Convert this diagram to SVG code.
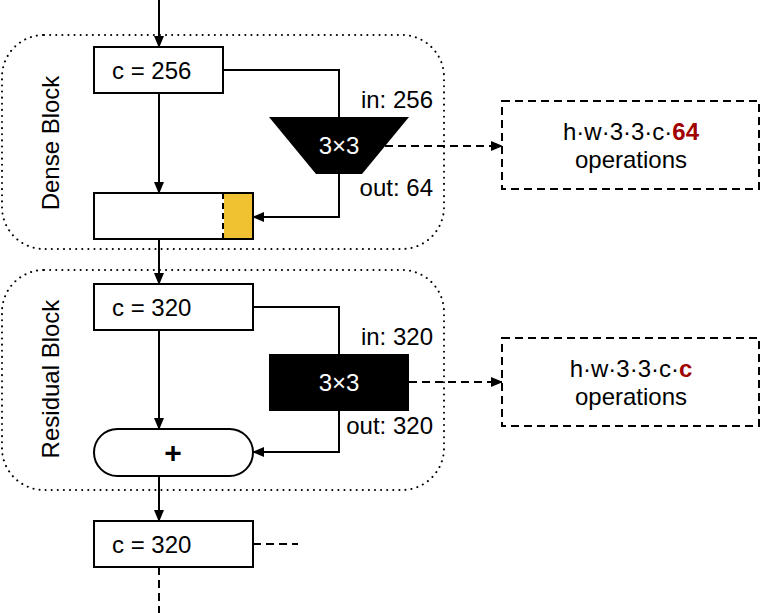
<svg xmlns="http://www.w3.org/2000/svg" width="760" height="613" viewBox="0 0 760 613">
<defs>
<style>
text{font-family:"Liberation Sans",Arial,sans-serif;font-size:24px;fill:#000}
.box{fill:#fff;stroke:#000;stroke-width:2}
.cont{fill:none;stroke:#000;stroke-width:2;stroke-dasharray:0.1 6;stroke-linecap:round}
.ln{fill:none;stroke:#000;stroke-width:2}
.dash{fill:none;stroke:#000;stroke-width:2;stroke-dasharray:8 5}
.dbox{fill:#fff;stroke:#000;stroke-width:2;stroke-dasharray:8 5}
.wt{fill:#fff}
.red{fill:#a00000;font-weight:bold}
</style>
<marker id="ah" markerWidth="12" markerHeight="10" refX="11" refY="5" orient="auto" markerUnits="userSpaceOnUse">
<path d="M0,0 L12,5 L0,10 Z" fill="#000"/>
</marker>
</defs>

<g id="dense-block">
<rect class="cont" x="2" y="35" width="442" height="214" rx="42"/>
<text transform="translate(59,143) rotate(-90)" text-anchor="middle">Dense Block</text>
</g>
<g id="residual-block">
<rect class="cont" x="2" y="270" width="442" height="220" rx="42"/>
<text transform="translate(59,379) rotate(-90)" text-anchor="middle">Residual Block</text>
</g>

<g id="connectors">
<line class="ln" x1="159" y1="0" x2="159" y2="47" marker-end="url(#ah)"/>
<line class="ln" x1="159" y1="93" x2="159" y2="193" marker-end="url(#ah)"/>
<polyline class="ln" points="223,70 339,70 339,117"/>
<polyline class="ln" points="339,174 339,217 253,217" marker-end="url(#ah)"/>
<line class="ln" x1="159" y1="239" x2="159" y2="284" marker-end="url(#ah)"/>
<line class="ln" x1="159" y1="330" x2="159" y2="429" marker-end="url(#ah)"/>
<polyline class="ln" points="253,307 339,307 339,354"/>
<polyline class="ln" points="339,411 339,452 253,452" marker-end="url(#ah)"/>
<line class="ln" x1="159" y1="476" x2="159" y2="521" marker-end="url(#ah)"/>
<line class="dash" x1="253" y1="544" x2="298" y2="544"/>
<line class="dash" x1="159" y1="567" x2="159" y2="613"/>
<line class="dash" x1="385" y1="146" x2="502" y2="146" marker-end="url(#ah)"/>
<line class="dash" x1="409" y1="382" x2="502" y2="382" marker-end="url(#ah)"/>
</g>

<g id="box-c256">
<rect class="box" x="94" y="47" width="129" height="46"/>
<text x="112" y="79">c = 256</text>
</g>
<g id="conv-dense">
<polygon points="269,117 409,117 362,174 316,174" fill="#000"/>
<text class="wt" x="339" y="154" text-anchor="middle">3×3</text>
<text x="433" y="108" text-anchor="end">in: 256</text>
<text x="433" y="196" text-anchor="end">out: 64</text>
</g>
<g id="box-concat">
<rect class="box" x="94" y="193" width="159" height="46"/>
<rect x="223" y="193" width="30" height="46" fill="#f0c232" stroke="#000" stroke-width="2"/>
<line x1="223" y1="193" x2="223" y2="239" stroke="#fff" stroke-width="2"/>
<line x1="223" y1="193" x2="223" y2="239" stroke="#000" stroke-width="2" stroke-dasharray="6 4"/>
</g>
<g id="ops-dense">
<rect class="dbox" x="502" y="101" width="257" height="88"/>
<text x="631" y="140" text-anchor="middle">h·w·3·3·c·<tspan class="red">64</tspan></text>
<text x="631" y="168" text-anchor="middle">operations</text>
</g>

<g id="box-c320">
<rect class="box" x="94" y="284" width="159" height="46"/>
<text x="112" y="316">c = 320</text>
</g>
<g id="conv-res">
<rect x="269" y="354" width="140" height="57" fill="#000"/>
<text class="wt" x="339" y="391" text-anchor="middle">3×3</text>
<text x="433" y="345" text-anchor="end">in: 320</text>
<text x="433" y="434" text-anchor="end">out: 320</text>
</g>
<g id="add">
<rect class="box" x="94" y="429" width="159" height="47" rx="23.5"/>
<text x="173" y="463" text-anchor="middle" style="font-weight:bold;font-size:30px">+</text>
</g>
<g id="ops-res">
<rect class="dbox" x="502" y="338" width="257" height="88"/>
<text x="631" y="377" text-anchor="middle">h·w·3·3·c·<tspan class="red">c</tspan></text>
<text x="631" y="405" text-anchor="middle">operations</text>
</g>

<g id="box-c320-out">
<rect class="box" x="94" y="521" width="159" height="46"/>
<text x="112" y="553">c = 320</text>
</g>
</svg>
